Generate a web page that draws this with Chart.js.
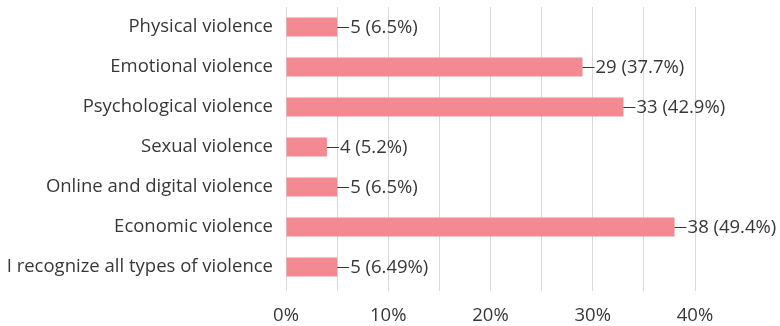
<!DOCTYPE html>
<html>
<head>
<meta charset="utf-8">
<script src="https://cdn.jsdelivr.net/npm/chart.js@4"></script>
<style>
  html, body { margin: 0; padding: 0; background: #fff; }
  canvas { display: block; }
</style>
</head>
<body>
<canvas id="chart" width="780" height="326"></canvas>
<script>
const categories = [
  "Physical violence",
  "Emotional violence",
  "Psychological violence",
  "Sexual violence",
  "Online and digital violence",
  "Economic violence",
  "I recognize all types of violence"
];
const counts = [5, 29, 33, 4, 5, 38, 5];
const shares = ["6.5", "37.7", "42.9", "5.2", "6.5", "49.4", "6.49"];
const xTicks = [0, 10, 20, 30, 40];

const FONT = "'Open Sans', Lato, sans-serif";
const FONT_SIZE = 18.5;
const TEXT = "#383838";

// writes "—N (P%)" just past the end of each bar
const barLabels = {
  id: "barLabels",
  afterDatasetsDraw(chart) {
    const ctx = chart.ctx;
    const meta = chart.getDatasetMeta(0);
    ctx.save();
    ctx.font = FONT_SIZE + "px " + FONT;
    ctx.fillStyle = TEXT;
    ctx.strokeStyle = TEXT;
    ctx.lineWidth = 1;
    ctx.textAlign = "left";
    ctx.textBaseline = "middle";
    meta.data.forEach((bar, i) => {
      const y = Math.round(bar.y) + 0.5;
      ctx.beginPath();
      ctx.moveTo(bar.x, y);
      ctx.lineTo(bar.x + 12, y);
      ctx.stroke();
      ctx.fillText(counts[i] + " (" + shares[i] + "%)", bar.x + 13, bar.y + 1);
    });
    ctx.restore();
  }
};

new Chart(document.getElementById("chart").getContext("2d"), {
  type: "bar",
  data: {
    labels: categories,
    datasets: [{
      data: counts,
      backgroundColor: "#f48a91",
      barPercentage: 0.95,
      categoryPercentage: 0.5
    }]
  },
  options: {
    indexAxis: "y",
    responsive: false,
    animation: false,
    layout: { padding: { top: 7, right: 85, left: 0, bottom: 0 } },
    plugins: {
      legend: { display: false },
      tooltip: { enabled: false }
    },
    scales: {
      x: {
        min: 0,
        max: 40,
        border: { display: false },
        grid: { color: "#d9d9d9", lineWidth: 1, tickLength: 4, drawTicks: true },
        afterBuildTicks(scale) {
          const t = [];
          for (let v = 0; v <= 40; v += 5) t.push({ value: v });
          scale.ticks = t;
        },
        ticks: {
          color: TEXT,
          font: { family: FONT, size: FONT_SIZE },
          padding: 14,
          maxRotation: 0,
          autoSkip: false,
          callback: (v) => xTicks.includes(v) ? v + "%" : ""
        },
        afterFit(scale) {
          scale.height = 39;
          scale.paddingLeft = 0;
          scale.paddingRight = 0;
        }
      },
      y: {
        border: { display: false },
        grid: { display: false },
        ticks: {
          color: TEXT,
          font: { family: FONT, size: FONT_SIZE },
          padding: 5,
          autoSkip: false
        },
        afterFit(scale) {
          scale.width = 286;
          scale.paddingTop = 0;
          scale.paddingBottom = 0;
        }
      }
    }
  },
  plugins: [barLabels]
});
</script>
</body>
</html>
